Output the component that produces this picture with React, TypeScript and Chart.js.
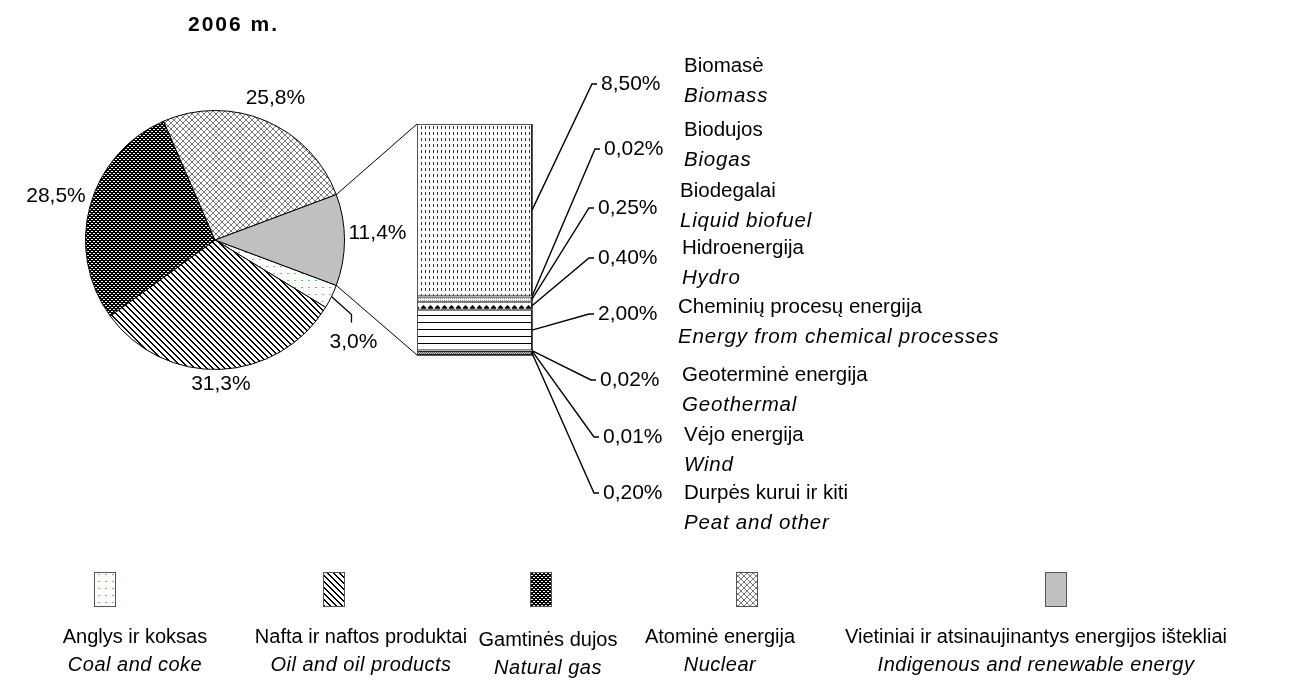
import React, { useEffect, useRef } from "react";
import { Chart, registerables } from "chart.js";

Chart.register(...registerables);

// ---------- DATA ----------
const TITLE = "2006 m.";
const pieLabelsLt = [
  "Anglys ir koksas",
  "Nafta ir naftos produktai",
  "Gamtinės dujos",
  "Atominė energija",
  "Vietiniai ir atsinaujinantys energijos ištekliai",
];
const pieLabelsEn = [
  "Coal and coke",
  "Oil and oil products",
  "Natural gas",
  "Nuclear",
  "Indigenous and renewable energy",
];
const pieValues = [3.0, 31.3, 28.5, 25.8, 11.4];

const barLabelsLt = [
  "Biomasė",
  "Biodujos",
  "Biodegalai",
  "Hidroenergija",
  "Cheminių procesų energija",
  "Geoterminė energija",
  "Vėjo energija",
  "Durpės kurui ir kiti",
];
const barLabelsEn = [
  "Biomass",
  "Biogas",
  "Liquid biofuel",
  "Hydro",
  "Energy from chemical processes",
  "Geothermal",
  "Wind",
  "Peat and other",
];
const barValues = [8.5, 0.02, 0.25, 0.4, 2.0, 0.02, 0.01, 0.2];

// ---------- LAYOUT ----------
const W = 1291;
const H = 681;
const FONT = "'Liberation Sans', Arial, Helvetica, sans-serif";
const PIE_BOX = { left: 85, top: 110, size: 260 };
const BAR_BOX = { left: 417, right: 532, top: 124, bottom: 355 };

// bar label layout (top-to-bottom order)
const valueY = [84, 149, 208, 258, 314, 380, 437, 493];
const elbowX = [592, 595, 589, 589, 589, 591, 594, 594];
const nameX = [684, 684, 680, 682, 678, 682, 684, 684];
const nameY1 = [66, 130, 191, 248, 307, 375, 435, 493];
const nameY2 = [96, 160, 221, 278, 337, 405, 465, 523];

// legend layout
const swX = [94, 323, 530, 736, 1045];
const swY = 572;
const swW = 21;
const swH = 34;
const lgTextX = [135, 361, 548, 720, 1036];
const lgY1 = [637, 637, 640, 637, 637];
const lgY2 = [665, 665, 668, 665, 665];

const fmtPie = (v: number) => v.toFixed(1).replace(".", ",") + "%";
const fmtBar = (v: number) => v.toFixed(2).replace(".", ",") + "%";

function makePattern(
  w: number,
  h: number,
  bg: string,
  draw: (ctx: CanvasRenderingContext2D) => void
): CanvasPattern | string {
  const c = document.createElement("canvas");
  c.width = w;
  c.height = h;
  const ctx = c.getContext("2d");
  if (!ctx) return bg;
  ctx.fillStyle = bg;
  ctx.fillRect(0, 0, w, h);
  draw(ctx);
  return ctx.createPattern(c, "repeat") || bg;
}

function piePatterns() {
  const coal = makePattern(7, 7, "#ffffff", (ctx) => {
    ctx.fillStyle = "#5fcf5f";
    ctx.fillRect(0, 0, 2, 1);
  });
  const oil = makePattern(6, 6, "#ffffff", (ctx) => {
    ctx.fillStyle = "#000000";
    for (let y = 0; y < 6; y++)
      for (let x = 0; x < 6; x++) if ((x - y + 12) % 6 < 2) ctx.fillRect(x, y, 1, 1);
  });
  const gas = makePattern(4, 4, "#000000", (ctx) => {
    ctx.fillStyle = "#ffffff";
    ctx.fillRect(1, 1, 2, 1);
    ctx.fillRect(3, 3, 1, 1);
    ctx.fillRect(0, 3, 1, 1);
  });
  const nuclear = makePattern(6, 6, "#ffffff", (ctx) => {
    ctx.fillStyle = "#7a7a7a";
    for (let y = 0; y < 6; y++)
      for (let x = 0; x < 6; x++) if (x === y || x === 5 - y) ctx.fillRect(x, y, 1, 1);
  });
  const indigenous = "#c0c0c0";
  return [coal, oil, gas, nuclear, indigenous];
}

function barPatterns() {
  const biomass = makePattern(4, 6, "#ffffff", (ctx) => {
    ctx.fillStyle = "#333333";
    ctx.fillRect(1, 0, 1, 3);
  });
  const biogas = "#ffffff";
  const biofuel = makePattern(2, 2, "#ffffff", (ctx) => {
    ctx.fillStyle = "#888888";
    ctx.fillRect(0, 0, 1, 1);
  });
  const hydro = makePattern(7, 8, "#ffffff", (ctx) => {
    ctx.fillStyle = "#000000";
    ctx.beginPath();
    ctx.moveTo(3.5, 1);
    ctx.lineTo(6.5, 4);
    ctx.lineTo(3.5, 7);
    ctx.lineTo(0.5, 4);
    ctx.closePath();
    ctx.fill();
  });
  const chemical = makePattern(4, 7, "#ffffff", (ctx) => {
    ctx.fillStyle = "#000000";
    ctx.fillRect(0, 0, 4, 1);
  });
  const geo = "#a0a0a0";
  const wind = "#909090";
  const peat = makePattern(2, 2, "#bbbbbb", (ctx) => {
    ctx.fillStyle = "#666666";
    ctx.fillRect(0, 0, 1, 1);
    ctx.fillRect(1, 1, 1, 1);
  });
  return [biomass, biogas, biofuel, hydro, chemical, geo, wind, peat];
}

export default function App() {
  const pieRef = useRef<HTMLCanvasElement | null>(null);
  const barRef = useRef<HTMLCanvasElement | null>(null);

  useEffect(() => {
    if (!pieRef.current || !barRef.current) return;
    const pieTotal = pieValues.reduce((a, b) => a + b, 0);
    const barTotal = barValues.reduce((a, b) => a + b, 0);
    const pPatterns = piePatterns();
    const bPatterns = barPatterns();

    const piePlugin = {
      id: "pieDecor",
      afterDraw(chart: any) {
        const ctx: CanvasRenderingContext2D = chart.ctx;
        const meta = chart.getDatasetMeta(0);
        ctx.save();
        // title
        ctx.fillStyle = "#000";
        ctx.font = `bold 21px ${FONT}`;
        (ctx as any).letterSpacing = "2px";
        ctx.textAlign = "left";
        ctx.textBaseline = "middle";
        ctx.fillText(TITLE, 188, 25);
        (ctx as any).letterSpacing = "0px";

        // pie labels
        ctx.font = `21px ${FONT}`;
        ctx.textAlign = "center";
        meta.data.forEach((arc: any, i: number) => {
          const { x, y, startAngle, endAngle, outerRadius } = arc.getProps(
            ["x", "y", "startAngle", "endAngle", "outerRadius"],
            true
          );
          const mid = (startAngle + endAngle) / 2;
          const txt = fmtPie(pieValues[i]);
          const tw = ctx.measureText(txt).width;
          const c = Math.cos(mid);
          const s = Math.sin(mid);
          if (i === 0) {
            const p0x = x + outerRadius * c;
            const p0y = y + outerRadius * s;
            const p1x = p0x + 20;
            const p1y = p0y + 18;
            ctx.strokeStyle = "#000";
            ctx.lineWidth = 1.3;
            ctx.beginPath();
            ctx.moveTo(p0x, p0y);
            ctx.lineTo(p1x, p1y);
            ctx.lineTo(p1x, p1y + 8);
            ctx.stroke();
            ctx.fillText(txt, p1x + 2, p1y + 28);
          } else {
            const d = outerRadius + 4 + (tw / 2) * Math.abs(c) + 10 * Math.abs(s);
            ctx.fillText(txt, x + d * c, y + d * s - (i === 4 ? 7 : 0));
          }
        });

        // legend
        const bgs = chart.data.datasets[0].backgroundColor;
        for (let i = 0; i < pieValues.length; i++) {
          ctx.fillStyle = bgs[i];
          ctx.fillRect(swX[i], swY, swW, swH);
          ctx.strokeStyle = "#555";
          ctx.lineWidth = 1;
          ctx.strokeRect(swX[i] + 0.5, swY + 0.5, swW, swH);
          ctx.fillStyle = "#000";
          ctx.textAlign = "center";
          ctx.font = `20px ${FONT}`;
          ctx.fillText(pieLabelsLt[i], lgTextX[i], lgY1[i]);
          ctx.font = `italic 20px ${FONT}`;
          (ctx as any).letterSpacing = "0.5px";
          ctx.fillText(pieLabelsEn[i], lgTextX[i], lgY2[i]);
          (ctx as any).letterSpacing = "0px";
        }
        ctx.restore();
      },
    };

    const pie = new Chart(pieRef.current, {
      type: "pie",
      data: {
        labels: pieLabelsEn,
        datasets: [
          {
            data: pieValues,
            backgroundColor: pPatterns as any,
            borderColor: "#000",
            borderWidth: 1,
          },
        ],
      },
      options: {
        responsive: false,
        animation: false,
        rotation: 90 + (pieValues[pieValues.length - 1] / pieTotal) * 180,
        layout: {
          padding: {
            left: PIE_BOX.left,
            top: PIE_BOX.top,
            right: W - PIE_BOX.left - PIE_BOX.size,
            bottom: H - PIE_BOX.top - PIE_BOX.size,
          },
        },
        plugins: { legend: { display: false }, tooltip: { enabled: false } },
      } as any,
      plugins: [piePlugin],
    });

    const n = barValues.length;
    const datasets = barValues
      .map((v, i) => ({
        label: barLabelsEn[i],
        data: [v],
        backgroundColor: bPatterns[i] as any,
        borderColor: "#222",
        borderWidth: 1,
        borderSkipped: false,
        barPercentage: 1,
        categoryPercentage: 1,
        inflateAmount: 0,
      }))
      .reverse();

    const barPlugin = {
      id: "barDecor",
      afterDraw(chart: any) {
        const ctx: CanvasRenderingContext2D = chart.ctx;
        ctx.save();
        const topEl = chart.getDatasetMeta(n - 1).data[0].getProps(["x", "y", "base", "width"], true);
        const botEl = chart.getDatasetMeta(0).data[0].getProps(["x", "y", "base", "width"], true);
        const left = topEl.x - topEl.width / 2;
        const right = topEl.x + topEl.width / 2;
        const top = topEl.y;
        const bottom = botEl.base;

        // outline
        ctx.strokeStyle = "#555";
        ctx.lineWidth = 1;
        ctx.strokeRect(Math.round(left) + 0.5, Math.round(top) + 0.5, Math.round(right - left), Math.round(bottom - top));

        // connectors from pie's last slice
        const arc = pie.getDatasetMeta(0).data[pieValues.length - 1] as any;
        const a = arc.getProps(["x", "y", "startAngle", "endAngle", "outerRadius"], true);
        ctx.strokeStyle = "#000";
        ctx.lineWidth = 1;
        ctx.beginPath();
        ctx.moveTo(a.x + a.outerRadius * Math.cos(a.startAngle), a.y + a.outerRadius * Math.sin(a.startAngle));
        ctx.lineTo(left, top);
        ctx.moveTo(a.x + a.outerRadius * Math.cos(a.endAngle), a.y + a.outerRadius * Math.sin(a.endAngle));
        ctx.lineTo(left, bottom);
        ctx.stroke();

        // leader lines and labels
        for (let i = 0; i < n; i++) {
          const el = chart.getDatasetMeta(n - 1 - i).data[0].getProps(["x", "y", "base", "width"], true);
          const my = (el.y + el.base) / 2;
          const rx = el.x + el.width / 2;
          ctx.strokeStyle = "#000";
          ctx.lineWidth = 1.4;
          ctx.beginPath();
          ctx.moveTo(rx, my);
          ctx.lineTo(elbowX[i], valueY[i]);
          ctx.lineTo(elbowX[i] + 5, valueY[i]);
          ctx.stroke();
          ctx.fillStyle = "#000";
          ctx.textAlign = "left";
          ctx.textBaseline = "middle";
          ctx.font = `21px ${FONT}`;
          ctx.fillText(fmtBar(barValues[i]), elbowX[i] + 9, valueY[i]);
          ctx.font = `20.5px ${FONT}`;
          ctx.fillText(barLabelsLt[i], nameX[i], nameY1[i]);
          ctx.font = `italic 20.5px ${FONT}`;
          (ctx as any).letterSpacing = "0.8px";
          ctx.fillText(barLabelsEn[i], nameX[i], nameY2[i]);
          (ctx as any).letterSpacing = "0px";
        }
        ctx.restore();
      },
    };

    const bar = new Chart(barRef.current, {
      type: "bar",
      data: { labels: [""], datasets: datasets as any },
      options: {
        responsive: false,
        animation: false,
        layout: {
          padding: {
            left: BAR_BOX.left,
            right: W - BAR_BOX.right,
            top: BAR_BOX.top,
            bottom: H - BAR_BOX.bottom,
          },
        },
        scales: {
          x: { stacked: true, display: false },
          y: { stacked: true, display: false, min: 0, max: barTotal },
        },
        plugins: { legend: { display: false }, tooltip: { enabled: false } },
      } as any,
      plugins: [barPlugin],
    });

    return () => {
      bar.destroy();
      pie.destroy();
    };
  }, []);

  return (
    <div style={{ position: "fixed", left: 0, top: 0, width: W, height: H, background: "#fff" }}>
      <canvas ref={pieRef} width={W} height={H} style={{ position: "absolute", left: 0, top: 0, width: W, height: H }} />
      <canvas ref={barRef} width={W} height={H} style={{ position: "absolute", left: 0, top: 0, width: W, height: H }} />
    </div>
  );
}
